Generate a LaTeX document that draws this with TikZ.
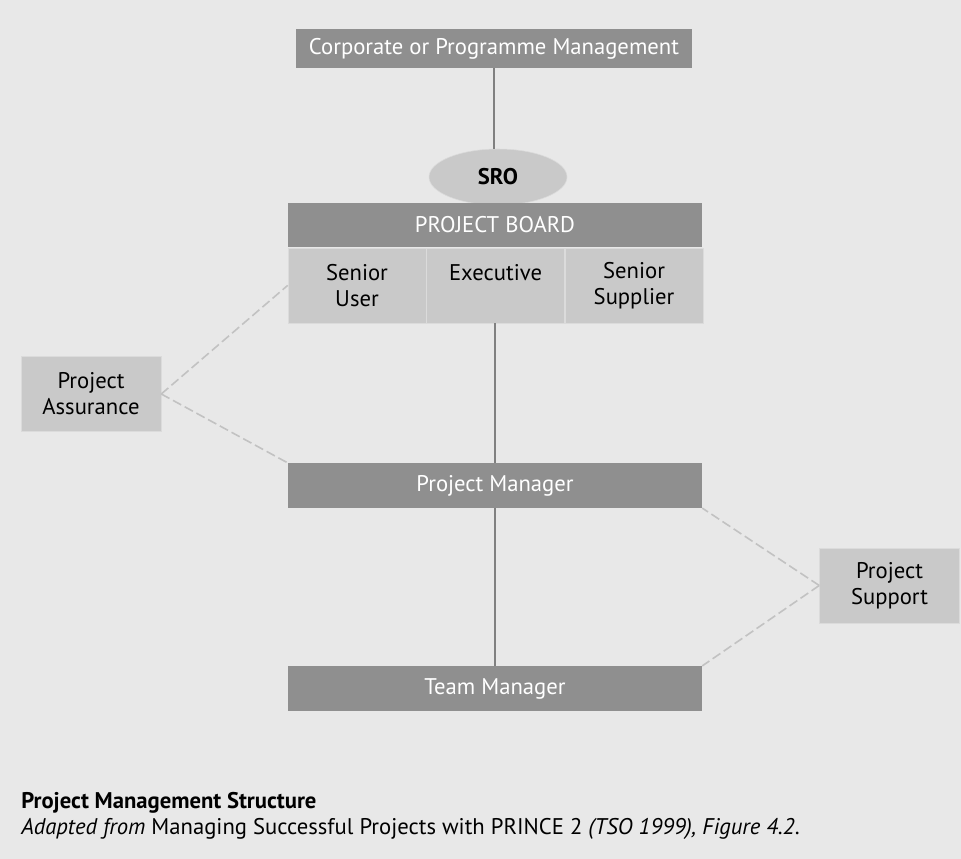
\documentclass[tikz,border=0pt]{standalone}
\usepackage{fontspec}
\setmainfont{PT Sans}
\usetikzlibrary{positioning}
\usetikzlibrary{shapes.geometric}

\definecolor{bg}{gray}{0.91}
\definecolor{darkbox}{gray}{0.56}
\definecolor{lightbox}{gray}{0.79}
\definecolor{cellline}{gray}{0.86}
\definecolor{dashline}{gray}{0.76}
\definecolor{solidline}{gray}{0.5}

\begin{document}
\begin{tikzpicture}[x=0.75pt,y=-0.75pt,
  every node/.style={font=\fontsize{17}{19.5}\selectfont, inner sep=0pt},
  dark/.style={rectangle, fill=darkbox, text=white, minimum width=310.5pt, minimum height=33.5pt},
  light/.style={rectangle, fill=lightbox, draw=cellline, align=center, minimum width=105pt, minimum height=56.5pt},
  cell/.style={rectangle, fill=lightbox, draw=cellline, align=center, minimum width=103.5pt, minimum height=56.25pt},
  link/.style={draw=solidline, line width=0.9pt},
  assist/.style={draw=dashline, line width=1.2pt, dash pattern=on 7pt off 3pt}]

  \fill[bg] (0,0) rectangle (961,859);

  \node[dark, minimum width=297pt, minimum height=29.25pt] (corp) at (494,48.5) {Corporate or Programme Management};
  \node[ellipse, fill=lightbox, draw=cellline, minimum width=103.5pt, minimum height=42pt] (sro) at (498,177) {\bfseries SRO};
  \node[dark] (board) at (495,225) {PROJECT BOARD};
  \node[cell, anchor=north west] (su) at (board.south west) {Senior\\User};
  \node[cell, right=0pt of su] (exe) {Executive\\\mbox{}};
  \node[cell, right=0pt of exe] (ss) {Senior\\Supplier};

  \node[light] (pa) at (91,394) {Project\\Assurance};
  \node[dark] (pm) at (495,485.5) {Project Manager};
  \node[light] (ps) at (889.5,585.5) {Project\\Support};
  \node[dark] (tm) at (495,688.5) {Team Manager};

  % reporting lines
  \draw[link] (corp.south) -- (corp.south |- sro.north);
  \draw[link] (pm.north |- exe.south) -- (pm.north);
  \draw[link] (pm.south) -- (tm.north);

  % assurance and support
  \draw[assist] (pa.east) -- (su.west);
  \draw[assist] (pa.east) -- (pm.north west);
  \draw[assist] (ps.west) -- (pm.south east);
  \draw[assist] (ps.west) -- (tm.north east);

  \node[anchor=base west] (title) at (21,808) {\bfseries Project Management Structure};
  \node[anchor=base west] (source) at (21,834) {\itshape Adapted from \upshape Managing Successful Projects with PRINCE 2 \itshape (TSO 1999), Figure 4.2\upshape .};
\end{tikzpicture}
\end{document}
